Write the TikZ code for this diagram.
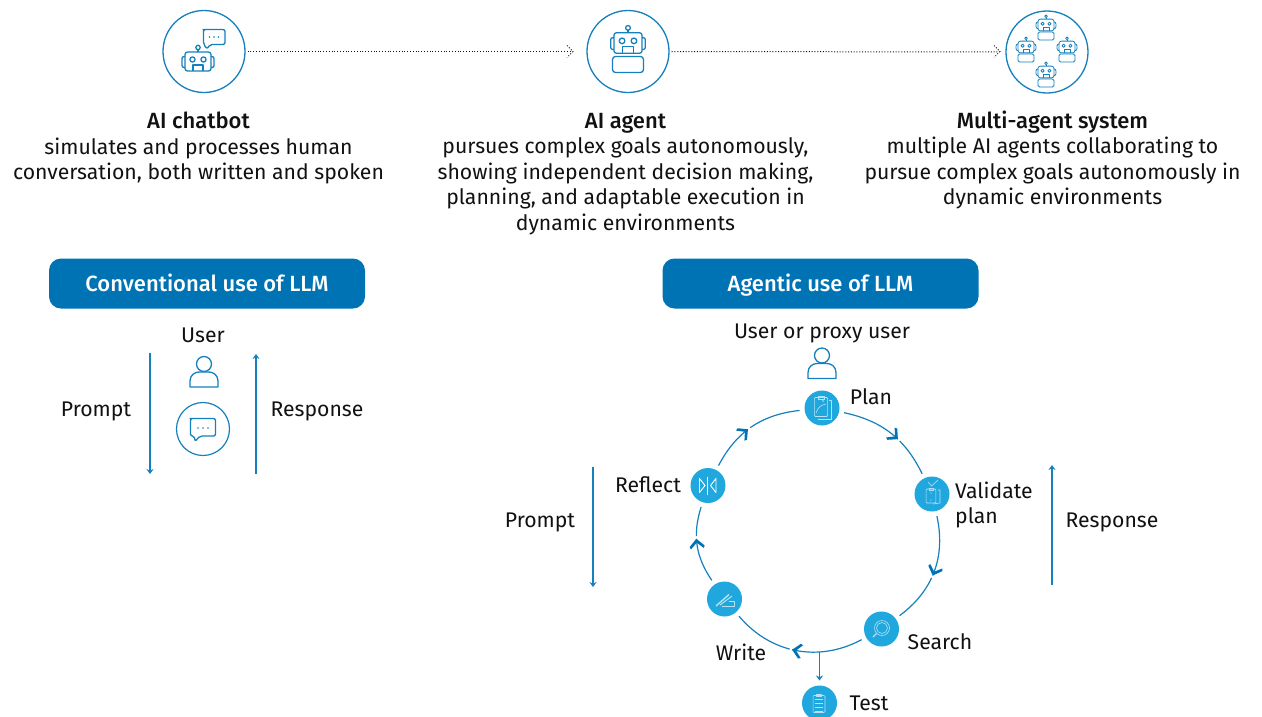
\documentclass[tikz,border=0pt]{standalone}
\usepackage{fontspec}
\setmainfont[BoldFont={Fira Sans Medium}]{Fira Sans}
\usetikzlibrary{arrows.meta,decorations.markings}
\definecolor{bl}{HTML}{0073B5}
\definecolor{lnblue}{HTML}{1480BD}
\definecolor{sky}{HTML}{20A8DE}
\definecolor{pale}{HTML}{B5E2F5}
\definecolor{ink}{HTML}{111111}
\newcommand{\lead}[1]{{\fontsize{22}{25.5}\selectfont\bfseries #1}}
\tikzset{
  x=1pt,y=-1pt,
  base/.style={font=\fontsize{21.2}{25.5}\selectfont,text=ink,inner sep=0pt},
  desc/.style={base,align=center},
  label/.style={base,align=left},
  headbox/.style={rounded corners=12pt,fill=bl,minimum width=316pt,minimum height=50pt,text=white,inner sep=0pt,text height=18pt,text depth=3pt,font=\fontsize{22}{24}\selectfont\bfseries},
  ringnode/.style={circle,draw=lnblue,line width=1.3pt,minimum size=82pt,inner sep=0pt,fill=white},
  smallring/.style={circle,draw=lnblue,line width=1.2pt,minimum size=53pt,inner sep=0pt},
  stepnode/.style={circle,fill=sky,minimum size=35pt,inner sep=0pt,outer sep=5pt},
  dotflow/.style={dash pattern=on 1pt off 1.8pt,line width=1pt,draw=ink},
  flow/.style={draw=lnblue,line width=1.1pt,-{Stealth[length=5pt,width=7pt]}},
  ringarc/.style={draw=lnblue,line width=1.2pt,decoration={markings,mark=at position #1 with {
     \fill[white] (4,-1.6) rectangle (6.5,1.6);
     \fill[bl] (4,0) -- (-3.5,7.5) -- (-6,6.5) -- (0,0) -- (-6,-6.5) -- (-3.5,-7.5) -- cycle;}},postaction={decorate}},
  ringarc/.default=.5,
  icon/.style={draw=lnblue,line width=1.3pt,line join=round},
  thin icon/.style={draw=lnblue,line width=.8pt,line join=round},
  pale icon/.style={draw=pale,line width=.6pt,line join=round},
  botpic/.pic={
    \draw[pic actions,rounded corners=2.5pt] (-13,-9.5) rectangle (13,9.5);
    \draw[pic actions,rounded corners=2pt] (-13,-5) -- (-16,-5) -- (-16,6) -- (-13,6);
    \draw[pic actions,rounded corners=2pt] (13,-5) -- (16,-5) -- (16,6) -- (13,6);
    \draw[pic actions] (0,-9.5) -- (0,-12);
    \draw[pic actions] (0,-14) circle[radius=2.2];
    \draw[pic actions] (-5.5,-2) circle[radius=2.6];
    \draw[pic actions] (5.5,-2) circle[radius=2.6];
    \draw[pic actions] (-5,9.5) -- (-5,3.5) -- (5,3.5) -- (5,9.5);
  },
  userpic/.pic={
    \draw[pic actions] (0,-8) circle[radius=7.5];
    \draw[pic actions] (-14,15) -- (-14,9) .. controls (-14,3) and (-9,0) .. (-5,0) -- (5,0) .. controls (9,0) and (14,3) .. (14,9) -- (14,15) -- cycle;
  },
  clippic/.pic={
    \draw[pic actions,rounded corners=1pt] (-7,-10) rectangle (7,10);
    \draw[pic actions] (-3,-11.5) rectangle (3,-8.5);
  },
}
\begin{document}
\begin{tikzpicture}
\useasboundingbox (0,0) rectangle (1262,716);
% top row
\node[ringnode] (chatbot) at (204,51.5) {};
\node[ringnode] (agent) at (628,51.5) {};
\node[ringnode] (multi) at (1047,52) {};
\draw[dotflow,shorten >=14pt,shorten <=2pt] (chatbot) -- (agent);
\draw[dotflow,shorten >=6pt,shorten <=2pt] (agent) -- (multi);
\coordinate (h1) at (573,51.5); \coordinate (h1a) at (567,45.5); \coordinate (h1b) at (567,57.5);
\coordinate (h2) at (1000,51.5); \coordinate (h2a) at (994,45.5); \coordinate (h2b) at (994,57.5);
\draw[dotflow] (h1a) -- (h1) -- (h1b);
\draw[dotflow] (h2a) -- (h2) -- (h2b);
\pic[icon] at (198,61.5) {botpic};
\draw[icon,rounded corners=2pt] (205,29.5) -- (225,29.5) -- (225,44.5) -- (210,44.5) -- (207,49) -- (203.5,44) -- (203.5,29.5) -- cycle;
\foreach \dx in {209.5,214,218.5} \fill[lnblue] (\dx,37) circle[radius=.8];
\pic[icon,scale=1.08] at (628,43) {botpic};
\draw[icon,rounded corners=3pt] (612.5,56.5) rectangle (643.5,72.5);
\foreach \rx/\ry in {1046/25,1026/47,1067/47,1046/72}{
  \pic[thin icon,scale=.62] at (\rx,\ry) {botpic};
  \draw[thin icon,rounded corners=1.5pt] (\rx-8,\ry+7) rectangle (\rx+8,\ry+15);
}
\node[desc] (t1) at (198.5,148) {\lead{AI chatbot}\\simulates and processes human\\conversation, both written and spoken};
\node[desc] (t2) at (625.5,174) {\lead{AI agent}\\pursues complex goals autonomously,\\showing independent decision making,\\planning, and adaptable execution in\\dynamic environments};
\node[desc] (t3) at (1052.5,160) {\lead{Multi-agent system}\\multiple AI agents collaborating to\\pursue complex goals autonomously in\\dynamic environments};
% headers
\node[headbox] (conv) at (207,283.5) {Conventional use of LLM};
\node[headbox] (agentic) at (820.5,283.5) {Agentic use of LLM};
% conventional
\node[label] (user) at (203,335) {User};
\pic[icon] at (204,372) {userpic};
\node[smallring] (chat) at (203,429) {};
\draw[icon,rounded corners=2pt] (192,418.5) -- (215.5,418.5) -- (215.5,436) -- (200,436) -- (195,441.5) -- (194.5,436) -- (190.5,436) -- (190.5,418.5) -- cycle;
\foreach \dx in {198,203,208} \fill[lnblue] (\dx,428) circle[radius=.8];
\coordinate (pa) at (150,353); \coordinate (pb) at (150,474);
\coordinate (ra) at (256,474); \coordinate (rb) at (256,354);
\draw[flow] (pa) -- (pb);
\draw[flow] (ra) -- (rb);
\node[label] (lp1) at (96,411) {Prompt};
\node[label] (lr1) at (317,411) {Response};
% agentic
\node[label] (proxy) at (822,333) {User or proxy user};
\pic[icon] at (822,363.5) {userpic};
\node[stepnode] (plan) at (822,408) {};
\node[stepnode] (validate) at (932,494) {};
\node[stepnode] (search) at (881.5,629) {};
\node[stepnode] (write) at (724.5,599) {};
\node[stepnode] (reflect) at (708,485.5) {};
\node[stepnode] (test) at (819.5,703) {};
\draw[ringarc=.55] (plan) to[bend left=26] (validate);
\draw[ringarc] (validate) to[bend left=33] (search);
\draw[ringarc] (search) to[bend left=39] (write);
\draw[ringarc=.53] (write) to[bend left=26] (reflect);
\draw[ringarc=.42] (reflect) to[bend left=28] (plan);
\coordinate (fork) at (819.5,652);
\draw[flow] (fork) -- (test);
\node[label] (lplan) at (871,397) {Plan};
\node[label,anchor=west] (lval) at (955,505) {Validate\\plan};
\node[label] (lsearch) at (940,642) {Search};
\node[label] (lwrite) at (741,652) {Write};
\node[label] (lrefl) at (648,485) {Reflect};
\node[label] (ltest) at (869,703) {Test};
\coordinate (pc) at (593,467); \coordinate (pd) at (593,587);
\coordinate (rc) at (1052,585); \coordinate (rd) at (1052,465);
\draw[flow] (pc) -- (pd);
\draw[flow] (rc) -- (rd);
\node[label] (lp2) at (540,522) {Prompt};
\node[label] (lr2) at (1112,522) {Response};
% step icons
\begin{scope}[pale icon]
  % plan
  \draw (829,400) -- (831,400) -- (831,419) -- (818,419);
  \pic[pale icon,scale=.95] at (821,407) {clippic};
  \draw (816,413) .. controls (818,407) and (821,405) .. (826,404);
  \fill[pale] (823,401) circle[radius=.8];
  % validate
  \pic[pale icon,scale=.7] at (931,496) {clippic};
  \draw (938,490) -- (940,490) -- (940,503) -- (933,504);
  \draw (928,482) -- (931.5,486) -- (938,480);
  \fill[pale] (931,493) circle[radius=.7]; \fill[pale] (931,500) circle[radius=.7];
  % search
  \draw (882,628) circle[radius=7.5];
  \draw (882,628) circle[radius=5.5];
  \draw[line width=1.2pt] (876.5,633.5) -- (873,637);
  % write
  \draw[line width=1.4pt] (716,606) -- (729,594.5);
  \draw[line width=1pt] (720,605) -- (732,596);
  \draw (722,606) -- (734,606) -- (734,601) -- (729,601);
  % reflect
  \draw[line width=.9pt,draw=white] (707.5,477) -- (707.5,495);
  \draw[line width=.9pt,draw=white] (699.5,478.5) -- (705,485.5) -- (699.5,492.5) -- cycle;
  \draw[line width=.9pt,draw=white] (716,478.5) -- (710.5,485.5) -- (716,492.5) -- cycle;
  % test
  \pic[pale icon,scale=.85] at (819,704) {clippic};
  \foreach \ly in {699,703,707,711} \draw (815,\ly) -- (823,\ly);
\end{scope}
\end{tikzpicture}
\end{document}
